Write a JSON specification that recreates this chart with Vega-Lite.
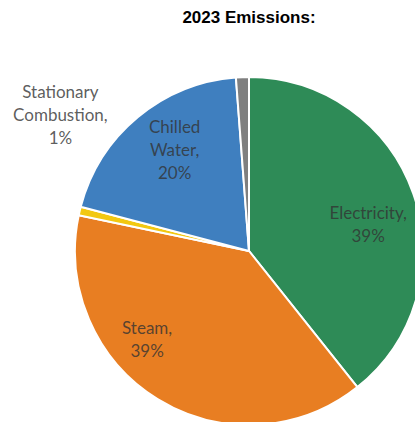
{
  "$schema": "https://vega.github.io/schema/vega-lite/v6.json",
  "autosize": "none",
  "width": 332,
  "height": 342,
  "padding": {"left": 83, "top": 80, "right": 0, "bottom": 0},
  "background": "white",
  "title": {"text": "2023 Emissions:", "font": "Liberation Sans", "fontSize": 17, "fontWeight": "bold", "color": "black", "offset": 10, "dy": 107, "anchor": "middle"},
  "data": {"values": [
    {"category": "Electricity", "value": 39.3, "order": 1, "label": "Electricity,\n39%"},
    {"category": "Steam", "value": 39.0, "order": 2, "label": "Steam,\n39%"},
    {"category": "Stationary Combustion", "value": 0.8, "order": 3, "label": "Stationary\nCombustion,\n1%"},
    {"category": "Chilled Water", "value": 19.7, "order": 4, "label": "Chilled\nWater,\n20%"},
    {"category": "Other", "value": 1.2, "order": 5, "label": ""}
  ]},
  "encoding": {
    "theta": {"field": "value", "type": "quantitative", "stack": true},
    "order": {"field": "order", "type": "quantitative"}
  },
  "layer": [
    {
      "mark": {"type": "arc", "radius": 174, "stroke": "white", "strokeWidth": 2},
      "encoding": {
        "color": {"field": "category", "type": "nominal", "legend": null,
          "scale": {"domain": ["Electricity", "Steam", "Stationary Combustion", "Chilled Water", "Other"],
                    "range": ["#2e8b57", "#e87e22", "#f2c811", "#3f7fbf", "#7f7f7f"]}}
      }
    },
    {
      "mark": {"type": "text", "radius": 122, "dx": 4, "dy": 3, "font": "Lato", "fontSize": 17, "lineBreak": "\n", "lineHeight": 23, "fill": "#333333", "fillOpacity": 0.8, "align": "center", "baseline": "middle"},
      "encoding": {"text": {"condition": {"test": "datum.category === 'Electricity'", "field": "label"}, "value": ""}}
    },
    {
      "mark": {"type": "text", "radius": 135, "dx": -31, "dy": -37, "font": "Lato", "fontSize": 17, "lineBreak": "\n", "lineHeight": 23, "fill": "#333333", "fillOpacity": 0.8, "align": "center", "baseline": "middle"},
      "encoding": {"text": {"condition": {"test": "datum.category === 'Steam'", "field": "label"}, "value": ""}}
    },
    {
      "mark": {"type": "text", "radius": 124, "dx": 5, "dy": -28, "font": "Lato", "fontSize": 17, "lineBreak": "\n", "lineHeight": 23, "fill": "#333333", "fillOpacity": 0.8, "align": "center", "baseline": "middle"},
      "encoding": {"text": {"condition": {"test": "datum.category === 'Chilled Water'", "field": "label"}, "value": ""}}
    },
    {
      "mark": {"type": "text", "radius": 200, "dx": 6, "dy": -112, "font": "Lato", "fontSize": 17, "lineBreak": "\n", "lineHeight": 23, "fill": "#333333", "fillOpacity": 0.8, "align": "center", "baseline": "middle"},
      "encoding": {"text": {"condition": {"test": "datum.category === 'Stationary Combustion'", "field": "label"}, "value": ""}}
    }
  ],
  "config": {"view": {"stroke": null}}
}
